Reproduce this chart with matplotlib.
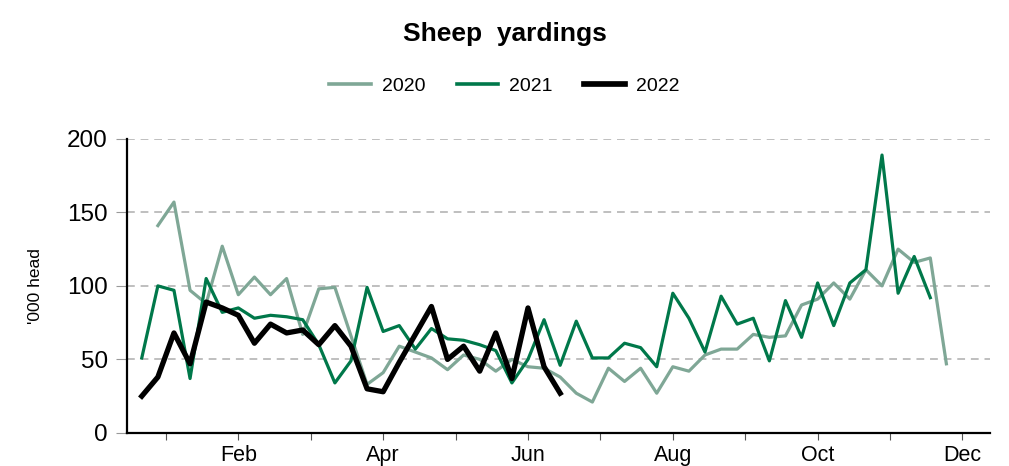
import matplotlib
matplotlib.use("Agg")
import matplotlib.pyplot as plt
import numpy as np

plt.rcParams['font.family'] = ['Liberation Sans', 'DejaVu Sans']

# weekly sheep yardings ('000 head), week index from first week of January
weeks_2020 = list(range(1, 51))
sheep_2020 = [141, 157, 97, 88, 127, 94, 106, 94, 105, 67, 98, 99, 66, 33, 41,
              59, 55, 51, 43, 53, 50, 42, 50, 45, 44, 38, 27, 21, 44, 35,
              44, 27, 45, 42, 53, 57, 57, 67, 65, 66, 87, 91, 102, 91, 111,
              100, 125, 116, 119, 47]

weeks_2021 = list(range(0, 50))
sheep_2021 = [51, 100, 97, 37, 105, 82, 85, 78, 80, 79, 77, 60, 34, 49, 99,
              69, 73, 57, 71, 64, 63, 60, 56, 34, 50, 77, 46, 76, 51, 51,
              61, 58, 45, 95, 78, 55, 93, 74, 78, 49, 90, 65, 102, 73, 102,
              111, 189, 95, 120, 92]

weeks_2022 = list(range(0, 27))
sheep_2022 = [25, 38, 68, 47, 89, 85, 80, 61, 74, 68, 70, 60, 73, 59, 30,
              28, 48, 67, 86, 50, 59, 42, 68, 37, 85, 45, 27]

month_labels = ['', 'Feb', '', 'Apr', '', 'Jun', '', 'Aug', '', 'Oct', '', 'Dec']
month_ticks = [1.5 + 4.5 * i for i in range(12)]

fig = plt.figure(figsize=(10.09, 4.66), dpi=100)
ax = fig.add_axes([0.126, 0.071, 0.855, 0.631])

ax.plot(weeks_2020, sheep_2020, color='#7fa796', lw=2.3, label='2020')
ax.plot(weeks_2021, sheep_2021, color='#00784a', lw=2.3, label='2021')
ax.plot(weeks_2022, sheep_2022, color='black', lw=3.8, label='2022')

ax.set_xlim(-0.91, 52.7)
ax.set_ylim(0, 200)
ax.set_yticks([0, 50, 100, 150, 200])
ax.set_xticks(month_ticks)
ax.set_xticklabels(month_labels)

ax.yaxis.grid(True, linestyle=(0, (4, 3)), color='#bfbfbf', lw=1.4)
ax.set_axisbelow(True)
for s in ['top', 'right']:
    ax.spines[s].set_visible(False)
for s in ['left', 'bottom']:
    ax.spines[s].set_linewidth(1.6)
ax.tick_params(axis='y', length=8, color='#999999', labelsize=17.5, pad=6)
ax.tick_params(axis='x', length=5, color='#555555', labelsize=15.5, pad=4)

ax.set_ylabel("'000 head", fontsize=12.5, labelpad=17)

fig.suptitle('Sheep  yardings', fontsize=19, fontweight='bold', y=0.953)
leg = fig.legend(loc='center', bbox_to_anchor=(0.5, 0.815), ncol=3, frameon=False,
                 fontsize=14, handlelength=2.15, columnspacing=1.6, handletextpad=0.55)
for line in leg.get_lines():
    line.set_linewidth(line.get_linewidth() + 0.3)

fig.savefig('out.png', dpi=100)
